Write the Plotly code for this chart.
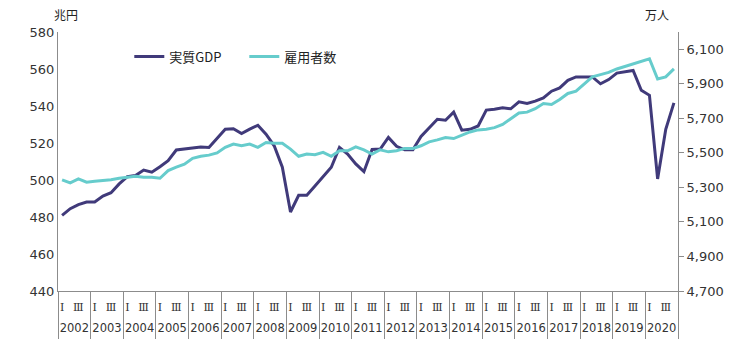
import plotly.graph_objects as go

years = [str(y) for y in range(2002, 2021)]
quarters = ["Q1", "Q2", "Q3", "Q4"]
quarter_ticktext = {"Q1": "Ⅰ", "Q3": "Ⅲ"}

gdp_values = [
    480.9, 484.5, 486.7, 488.1,
    488.1, 491.3, 493.1, 497.9,
    501.8, 502.4, 505.4, 504.2,
    507.2, 510.4, 516.2, 516.7,
    517.6, 517.9, 517.6, 522.5,
    527.5, 527.7, 525.1, 527.5,
    529.6, 524.8, 518.5, 506.9,
    482.7, 491.7, 491.7, 496.7,
    501.5, 506.9, 517.6, 514.0,
    508.7, 504.5, 516.5, 516.7,
    523.0, 518.2, 516.3, 516.3,
    523.5, 528.3, 532.8, 532.3,
    536.7, 526.9, 527.4, 529.2,
    537.8, 538.2, 539.1, 538.5,
    542.3, 541.4, 542.6, 544.4,
    548.0, 549.8, 553.9, 555.7,
    555.7, 555.7, 552.0, 554.3,
    557.8, 558.4, 559.2, 548.5,
    545.8, 500.6, 527.4, 541.7,
]

employees = [
    5344, 5326, 5349, 5330,
    5336, 5340, 5344, 5353,
    5359, 5365, 5359, 5359,
    5353, 5397, 5417, 5434,
    5468, 5480, 5487, 5500,
    5532, 5551, 5541, 5551,
    5532, 5560, 5556, 5556,
    5522, 5480, 5493, 5489,
    5503, 5480, 5512, 5512,
    5535, 5517, 5493, 5518,
    5506, 5512, 5526, 5526,
    5541, 5564, 5575, 5589,
    5583, 5602, 5621, 5633,
    5637, 5646, 5665, 5698,
    5731, 5736, 5756, 5786,
    5780, 5809, 5844, 5857,
    5899, 5940, 5953, 5966,
    5986, 6001, 6014, 6029,
    6045, 5928, 5940, 5986,
]

x_cats = [f"{y}{q}" for y in years for q in quarters]
n = len(x_cats)
q_tickvals = [c for c in x_cats if c[-2:] in quarter_ticktext]
q_ticktext = [quarter_ticktext[c[-2:]] for c in q_tickvals]
year_centers = [4 * i + 1.5 for i in range(len(years))]
year_bounds = [4 * i - 0.5 for i in range(len(years) + 1)]

gdp_color = "#403A7A"
emp_color = "#66CCCC"
axis_gray = "#8C8C8C"
num_font = "DejaVu Sans, Verdana, sans-serif"
jp_font = "Noto Sans CJK JP, sans-serif"
xrange = [-0.5, n - 0.5]

fig = go.Figure()
fig.add_trace(go.Scatter(
    x=x_cats, y=gdp_values, name="実質GDP", mode="lines",
    line=dict(color=gdp_color, width=3), yaxis="y"))
fig.add_trace(go.Scatter(
    x=x_cats, y=employees, name="雇用者数", mode="lines",
    line=dict(color=emp_color, width=3), yaxis="y2"))
# empty helper traces so the year-label and divider axes get drawn
for ax in ["x2", "x3"]:
    fig.add_trace(go.Scatter(x=[None], y=[None], xaxis=ax, yaxis="y", mode="lines",
                             showlegend=False, hoverinfo="skip"))

fig.update_layout(
    width=750, height=350,
    margin=dict(l=58, r=72, t=32, b=57),
    paper_bgcolor="white", plot_bgcolor="white",
    showlegend=True,
    legend=dict(orientation="h", x=0.115, y=0.905, xanchor="left", yanchor="middle",
                font=dict(family=jp_font, size=13, color="#222"),
                bgcolor="rgba(0,0,0,0)", itemwidth=30, traceorder="normal",
                entrywidth=70, entrywidthmode="pixels"),
    xaxis=dict(type="category", range=xrange, showline=True, linecolor=axis_gray, linewidth=1,
               showgrid=False, tickmode="array", tickvals=q_tickvals, ticktext=q_ticktext,
               ticks="outside", ticklen=6, tickcolor="rgba(0,0,0,0)", tickangle=0,
               tickfont=dict(family="DejaVu Serif, serif", size=11, color="#333")),
    xaxis2=dict(type="linear", range=xrange, overlaying="x", anchor="y", side="bottom",
                showline=False, showgrid=False, zeroline=False, tickmode="array",
                tickvals=year_centers, ticktext=years, ticks="outside", ticklen=26,
                tickcolor="rgba(0,0,0,0)", tickangle=0,
                tickfont=dict(family=num_font, size=11.5, color="#333")),
    xaxis3=dict(type="linear", range=xrange, overlaying="x", anchor="y", side="bottom",
                showline=False, showgrid=False, zeroline=False, tickmode="array",
                tickvals=year_bounds, ticks="outside", ticklen=47, tickwidth=1,
                tickcolor=axis_gray, showticklabels=False),
    yaxis=dict(range=[440, 580], dtick=20, tick0=440, showgrid=False, zeroline=False,
               showline=True, linecolor=axis_gray, linewidth=1, ticks="",
               tickfont=dict(family=num_font, size=13, color="#333")),
    yaxis2=dict(range=[4700, 6200], dtick=200, tick0=4700, overlaying="y", side="right",
                showgrid=False, zeroline=False, showline=True, linecolor=axis_gray, linewidth=1,
                ticks="outside", ticklen=5, tickcolor=axis_gray, tickformat=",",
                tickfont=dict(family=num_font, size=13, color="#333")),
    annotations=[
        dict(text="兆円", x=(66 - 58) / 620, y=(293 - 14) / 261, xref="paper", yref="paper",
             xanchor="center", yanchor="middle", showarrow=False,
             font=dict(family=jp_font, size=12, color="#222")),
        dict(text="万人", x=(657 - 58) / 620, y=(293 - 14) / 261, xref="paper", yref="paper",
             xanchor="center", yanchor="middle", showarrow=False,
             font=dict(family=jp_font, size=12, color="#222")),
    ],
)

fig.write_html("out.html")
